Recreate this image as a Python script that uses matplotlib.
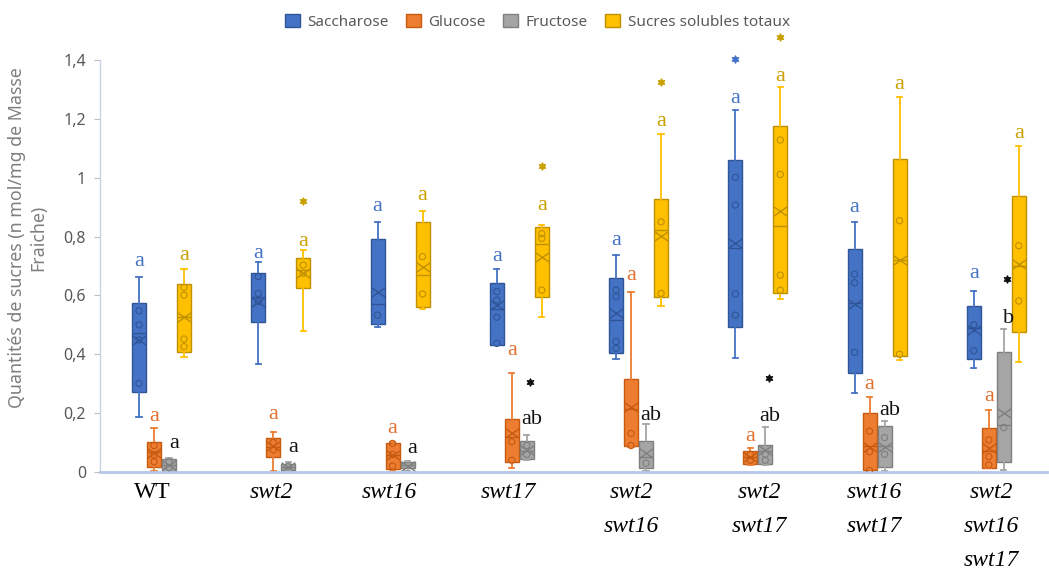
import matplotlib
matplotlib.use("Agg")
import matplotlib.pyplot as plt
from matplotlib.patches import Patch
from matplotlib.path import Path

# ---------------- data ----------------
GENOTYPES = ["WT", "swt2", "swt16", "swt17", "swt2\nswt16", "swt2\nswt17",
             "swt16\nswt17", "swt2\nswt16\nswt17"]
SERIES = ["Saccharose", "Glucose", "Fructose", "Sucres solubles totaux"]

# Saccharose
SAC_LOW = [0.188, 0.368, 0.494, 0.430, 0.384, 0.389, 0.267, 0.354]
SAC_Q1 = [0.273, 0.510, 0.504, 0.432, 0.405, 0.494, 0.335, 0.384]
SAC_MED = [0.473, 0.596, 0.570, 0.554, 0.516, 0.760, 0.575, 0.490]
SAC_Q3 = [0.575, 0.675, 0.792, 0.643, 0.660, 1.060, 0.759, 0.564]
SAC_HIGH = [0.664, 0.714, 0.851, 0.691, 0.737, 1.230, 0.848, 0.616]
SAC_MEAN = [0.449, 0.579, 0.613, 0.567, 0.539, 0.777, 0.570, 0.483]
SAC_PTS = [[0.548, 0.500, 0.449, 0.301], [0.664, 0.607, 0.579], [0.533],
           [0.613, 0.584, 0.526, 0.437], [0.618, 0.596, 0.443, 0.420],
           [1.001, 0.907, 0.605, 0.533], [0.672, 0.643, 0.407], [0.500, 0.412]]

# Glucose
GLU_LOW = [0.004, 0.004, 0.005, 0.012, 0.085, 0.025, 0.000, 0.012]
GLU_Q1 = [0.018, 0.050, 0.010, 0.035, 0.088, 0.028, 0.007, 0.015]
GLU_MED = [0.068, 0.086, 0.058, 0.120, 0.215, 0.050, 0.090, 0.070]
GLU_Q3 = [0.101, 0.117, 0.097, 0.179, 0.316, 0.072, 0.202, 0.148]
GLU_HIGH = [0.148, 0.135, 0.103, 0.337, 0.611, 0.080, 0.256, 0.211]
GLU_MEAN = [0.065, 0.088, 0.058, 0.131, 0.222, 0.050, 0.086, 0.080]
GLU_PTS = [[0.090, 0.058, 0.035], [0.100, 0.075], [0.097, 0.060, 0.020],
           [0.103, 0.040], [0.131, 0.090], [0.060, 0.040],
           [0.139, 0.069, 0.005], [0.109, 0.052, 0.024]]

# Fructose
FRU_LOW = [0.003, 0.003, 0.005, 0.040, 0.005, 0.025, 0.005, 0.007]
FRU_Q1 = [0.005, 0.006, 0.013, 0.043, 0.012, 0.028, 0.016, 0.035]
FRU_MED = [0.025, 0.018, 0.025, 0.070, 0.050, 0.070, 0.090, 0.160]
FRU_Q3 = [0.045, 0.027, 0.033, 0.107, 0.105, 0.092, 0.157, 0.407]
FRU_HIGH = [0.048, 0.033, 0.037, 0.126, 0.162, 0.154, 0.173, 0.485]
FRU_MEAN = [0.025, 0.016, 0.022, 0.075, 0.063, 0.075, 0.086, 0.200]
FRU_PTS = [[0.035, 0.015], [0.020], [], [0.090, 0.060], [0.030],
           [0.060, 0.040], [0.117, 0.060], [0.151]]

# Sucres solubles totaux
TOT_LOW = [0.390, 0.479, 0.553, 0.528, 0.564, 0.587, 0.381, 0.373]
TOT_Q1 = [0.409, 0.626, 0.562, 0.596, 0.595, 0.609, 0.395, 0.477]
TOT_MED = [0.528, 0.686, 0.669, 0.774, 0.822, 0.837, 0.720, 0.700]
TOT_Q3 = [0.638, 0.727, 0.850, 0.834, 0.928, 1.176, 1.064, 0.938]
TOT_HIGH = [0.690, 0.754, 0.886, 0.840, 1.148, 1.307, 1.275, 1.108]
TOT_MEAN = [0.528, 0.675, 0.698, 0.732, 0.802, 0.887, 0.720, 0.707]
TOT_PTS = [[0.627, 0.601, 0.452, 0.426], [0.703, 0.675], [0.732, 0.605],
           [0.810, 0.794, 0.618], [0.850, 0.607], [1.128, 1.011, 0.669, 0.618],
           [0.854, 0.400], [0.769, 0.581]]

# statistical groups (letters) and their heights
SAC_LETTERS = ["a"] * 8
SAC_LETTER_Y = [0.720, 0.749, 0.907, 0.737, 0.791, 1.275, 0.905, 0.679]
GLU_LETTERS = ["a"] * 8
GLU_LETTER_Y = [0.194, 0.200, 0.154, 0.420, 0.675, 0.126, 0.303, 0.262]
FRU_LETTERS = ["a", "a", "a", "ab", "ab", "ab", "ab", "b"]
FRU_LETTER_Y = [0.103, 0.090, 0.084, 0.185, 0.196, 0.193, 0.216, 0.528]
TOT_LETTERS = ["a"] * 8
TOT_LETTER_Y = [0.743, 0.788, 0.944, 0.911, 1.196, 1.349, 1.323, 1.156]

# significance stars (group index, height)
SAC_STARS = [(5, 1.403)]
FRU_STARS = [(3, 0.307), (5, 0.318), (7, 0.656)]
TOT_STARS = [(1, 0.920), (3, 1.040), (4, 1.326), (5, 1.479)]

YTICKS = [0, 0.2, 0.4, 0.6, 0.8, 1.0, 1.2, 1.4]
YTICK_LABELS = ["0", "0,2", "0,4", "0,6", "0,8", "1", "1,2", "1,4"]

# ---------------- style ----------------
FILL = ["#4472C4", "#ED7D31", "#A5A5A5", "#FFC000"]
EDGE = ["#2F5597", "#C55A11", "#7F7F7F", "#BF9000"]
LETTER_COL = ["#4472C4", "#E2702E", "#111111", "#C9A000"]
OFFSETS = [-0.1887, -0.0629, 0.0629, 0.1887]
BOX_W = 0.117
LABEL_SHIFT = [-0.08, -0.08, -0.09, -0.09, -0.06, 0.01, -0.02, -0.04]

series_data = [
    (SAC_LOW, SAC_Q1, SAC_MED, SAC_Q3, SAC_HIGH, SAC_MEAN, SAC_PTS,
     SAC_LETTERS, SAC_LETTER_Y, SAC_STARS),
    (GLU_LOW, GLU_Q1, GLU_MED, GLU_Q3, GLU_HIGH, GLU_MEAN, GLU_PTS,
     GLU_LETTERS, GLU_LETTER_Y, []),
    (FRU_LOW, FRU_Q1, FRU_MED, FRU_Q3, FRU_HIGH, FRU_MEAN, FRU_PTS,
     FRU_LETTERS, FRU_LETTER_Y, FRU_STARS),
    (TOT_LOW, TOT_Q1, TOT_MED, TOT_Q3, TOT_HIGH, TOT_MEAN, TOT_PTS,
     TOT_LETTERS, TOT_LETTER_Y, TOT_STARS),
]

# wide "x" used as the mean marker
mean_marker = Path([(-1, -0.7), (1, 0.7), (-1, 0.7), (1, -0.7)],
                   [Path.MOVETO, Path.LINETO, Path.MOVETO, Path.LINETO])

W, H = 1049, 569
fig = plt.figure(figsize=(W / 100, H / 100), dpi=100)
ax = fig.add_axes([100 / W, 97 / H, 947 / W, 412 / H])

n = len(GENOTYPES)
for s, (lo, q1, med, q3, hi, mean, pts, letters, ly, stars) in enumerate(series_data):
    stats = [dict(whislo=lo[i], q1=q1[i], med=med[i], q3=q3[i], whishi=hi[i],
                  mean=mean[i], fliers=[]) for i in range(n)]
    pos = [i + OFFSETS[s] for i in range(n)]
    ax.bxp(stats, positions=pos, widths=BOX_W, patch_artist=True,
           showmeans=True, showfliers=False, capwidths=0.045,
           boxprops=dict(facecolor=FILL[s], edgecolor=EDGE[s], linewidth=1.0),
           medianprops=dict(color=EDGE[s], linewidth=1.0),
           whiskerprops=dict(color=FILL[s], linewidth=1.3),
           capprops=dict(color=FILL[s], linewidth=1.3),
           meanprops=dict(marker=mean_marker, markersize=10,
                          markeredgecolor=EDGE[s], markerfacecolor="none",
                          markeredgewidth=1.0), zorder=2)
    for i in range(n):
        if pts[i]:
            ax.scatter([pos[i]] * len(pts[i]), pts[i], s=20, facecolors="none",
                       edgecolors=EDGE[s], linewidths=0.8, zorder=3)
        dx = 0.04 if s == 2 else 0.0
        ax.text(pos[i] + dx, ly[i] - 0.021, letters[i], ha="center",
                va="baseline", fontsize=16, family="Liberation Serif",
                color=LETTER_COL[s])
    for gi, y in stars:
        dx = 0.03 if s == 2 else 0.0
        ax.scatter([pos[gi] + dx], [y], marker=(6, 1, 0), s=26,
                   color=LETTER_COL[s], zorder=4, clip_on=False)

# genotype names under the axis
for i, name in enumerate(GENOTYPES):
    style = "normal" if name == "WT" else "italic"
    ax.text(i + LABEL_SHIFT[i], -0.035, name, ha="center", va="top",
            fontsize=17, family="Liberation Serif", style=style,
            linespacing=1.8, color="black")

ax.set_xlim(-0.516, -0.516 + 947 / 119.25)
ax.set_ylim(0, 1.4)
ax.set_yticks(YTICKS)
ax.set_yticklabels(YTICK_LABELS, family="Noto Sans", fontsize=11.5,
                   color="#595959")
ax.set_xticks([])
ax.tick_params(axis="y", length=4, color="#BFBFBF", pad=6)
for side in ("top", "right"):
    ax.spines[side].set_visible(False)
ax.spines["left"].set_color("#C9D3E6")
ax.spines["left"].set_linewidth(1.0)
ax.spines["bottom"].set_color("#B4C7E7")
ax.spines["bottom"].set_linewidth(2.0)

fig.text(28 / W, 1 - 238 / H,
         "Quantités de sucres (n mol/mg de Masse\nFraiche)",
         rotation=90, ha="center", va="center", multialignment="center",
         fontsize=12.8, family="Noto Sans", color="#7F7F7F", linespacing=1.25)

handles = [Patch(facecolor=FILL[k], edgecolor=EDGE[k], linewidth=1.0)
           for k in range(4)]
fig.legend(handles, SERIES, loc="upper center", bbox_to_anchor=(0.512, 1.0),
           ncol=4, frameon=False, handlelength=1.0, handleheight=1.0,
           handletextpad=0.5, columnspacing=1.1,
           prop=dict(family="Noto Sans", size=11), labelcolor="#595959")

fig.savefig("out.png", dpi=100)
